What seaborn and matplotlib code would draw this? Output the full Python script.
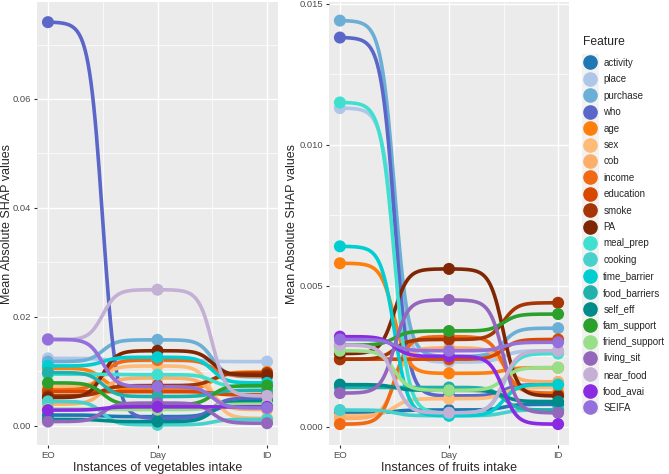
import numpy as np
import pandas as pd
import matplotlib.pyplot as plt
import seaborn as sns
from matplotlib.lines import Line2D
from matplotlib.patches import Rectangle

# Features e cores (ordem da legenda)
features = ['activity', 'place', 'purchase', 'who', 'age', 'sex', 'cob', 'income',
            'education', 'smoke', 'PA', 'meal_prep', 'cooking', 'time_barrier',
            'food_barriers', 'self_eff', 'fam_support', 'friend_support',
            'living_sit', 'near_food', 'food_avai', 'SEIFA']
cores = ['#1f77b4', '#aec7e8', '#6baed6', '#5a67c8', '#ff7f0e', '#ffbb78', '#fdae6b',
         '#f16913', '#d94801', '#a63603', '#7f2704', '#40e0d0', '#48d1cc', '#00ced1',
         '#20b2aa', '#008b8b', '#2ca02c', '#98df8a', '#9467bd', '#c5b0d5', '#8a2be2',
         '#9370db']
instancias = ['EO', 'Day', 'ID']

# Valores (EO, Day, ID)
veg_eo = [0.0020, 0.0124, 0.0118, 0.0741, 0.0106, 0.0072, 0.0040, 0.0066, 0.0063, 0.0055, 0.0052,
          0.0095, 0.0045, 0.0110, 0.0098, 0.0012, 0.0079, 0.0031, 0.0008, 0.0158, 0.0029, 0.0159]
veg_day = [0.0017, 0.0120, 0.0158, 0.0014, 0.0066, 0.0110, 0.0088, 0.0121, 0.0063, 0.0074, 0.0138,
           0.0094, 0.0002, 0.0126, 0.0054, 0.0008, 0.0039, 0.0030, 0.0042, 0.0250, 0.0035, 0.0072]
veg_id = [0.0038, 0.0118, 0.0090, 0.0051, 0.0099, 0.0014, 0.0030, 0.0092, 0.0057, 0.0097, 0.0093,
          0.0072, 0.0012, 0.0079, 0.0065, 0.0045, 0.0074, 0.0040, 0.0005, 0.0055, 0.0035, 0.0033]

fru_eo = [0.0005, 0.0113, 0.0144, 0.0138, 0.0058, 0.0004, 0.0003, 0.0001, 0.0024, 0.0024, 0.0026,
          0.0115, 0.0006, 0.0064, 0.0014, 0.0015, 0.0029, 0.0027, 0.0012, 0.0029, 0.0032, 0.0031]
fru_day = [0.0006, 0.0023, 0.0025, 0.0011, 0.0019, 0.0010, 0.0028, 0.0032, 0.0024, 0.0031, 0.0056,
           0.0005, 0.0004, 0.0004, 0.0014, 0.0013, 0.0034, 0.0013, 0.0045, 0.0005, 0.0025, 0.0027]
fru_id = [0.0008, 0.0027, 0.0035, 0.0015, 0.0021, 0.0014, 0.0016, 0.0012, 0.0031, 0.0044, 0.0011,
          0.0026, 0.0006, 0.0015, 0.0006, 0.0009, 0.0040, 0.0021, 0.0005, 0.0027, 0.0001, 0.0030]

paleta = dict(zip(features, cores))


def pontos(eo, day, idd):
    linhas = []
    for f, a, b, c in zip(features, eo, day, idd):
        for pos, v in enumerate([a, b, c]):
            linhas.append({'feature': f, 'pos': pos, 'valor': v})
    return pd.DataFrame(linhas)


def curvas(df, smooth=8, n=80):
    # curva sigmoide entre pontos consecutivos (estilo bump chart)
    t = np.linspace(-smooth, smooth, n)
    s = 1 / (1 + np.exp(-t))
    s = (s - s.min()) / (s.max() - s.min())
    partes = []
    for f in features:
        sub = df[df['feature'] == f].sort_values('pos')
        v = sub['valor'].values
        for i in range(len(v) - 1):
            partes.append(pd.DataFrame({'feature': f, 'x': i + (t + smooth) / (2 * smooth),
                                        'y': v[i] + (v[i + 1] - v[i]) * s}))
    return pd.concat(partes, ignore_index=True)


sns.set_theme(style="darkgrid", rc={'axes.facecolor': '#ebebeb', 'grid.color': 'white'})
plt.rcParams['font.family'] = ['Liberation Sans', 'DejaVu Sans']

fig = plt.figure(figsize=(6.69, 4.74), dpi=100)
W, H = 669, 474
ax1 = fig.add_axes([37 / W, 29 / H, 241 / W, 443 / H])
ax2 = fig.add_axes([329 / W, 29 / H, 240 / W, 443 / H])

config = [
    (ax1, pontos(veg_eo, veg_day, veg_id), 'Instances of vegetables intake',
     (-0.0035, 0.0778), [0, 0.02, 0.04, 0.06], ['0.00', '0.02', '0.04', '0.06'],
     [0.01, 0.03, 0.05, 0.07], -24 / 241),
    (ax2, pontos(fru_eo, fru_day, fru_id), 'Instances of fruits intake',
     (-0.00064, 0.01506), [0, 0.005, 0.010, 0.015], ['0.000', '0.005', '0.010', '0.015'],
     [0.0025, 0.0075, 0.0125], -31 / 240),
]

for ax, df, xlab, ylim, yt, ytl, ymin, ylab_x in config:
    cv = curvas(df)
    sns.lineplot(data=cv, x='x', y='y', hue='feature', hue_order=features, palette=paleta,
                 units='feature', estimator=None, sort=False, lw=2.6, legend=False, ax=ax)
    sns.scatterplot(data=df, x='pos', y='valor', hue='feature', hue_order=features,
                    palette=paleta, s=75, linewidth=0, legend=False, ax=ax, zorder=3)
    ax.set_xlim(-0.1, 2.1)
    ax.set_ylim(*ylim)
    ax.set_xticks([0, 1, 2])
    ax.set_xticklabels(instancias)
    ax.set_xticks([0.5, 1.5], minor=True)
    ax.set_yticks(yt)
    ax.set_yticklabels(ytl)
    ax.set_yticks(ymin, minor=True)
    ax.grid(which='major', color='white', lw=1.0)
    ax.grid(which='minor', color='white', lw=0.5)
    ax.tick_params(axis='both', which='major', labelsize=6.8, labelcolor='#4d4d4d',
                   length=2.5, width=0.8, color='#333333', pad=1.5, left=True, bottom=True)
    ax.tick_params(which='minor', length=0)
    ax.set_xlabel(xlab, fontsize=9, labelpad=2)
    ax.set_ylabel('Mean Absolute SHAP values', fontsize=9)
    ax.yaxis.set_label_coords(ylab_x, 0.5)
    for sp in ax.spines.values():
        sp.set_visible(False)

# Legenda manual estilo ggplot
fig.text(583 / W, 1 - 42 / H, 'Feature', fontsize=8.7, va='center', ha='left')
fig.patches.append(Rectangle((582 / W, 1 - 413 / H), 17 / W, 359 / H, transform=fig.transFigure,
                             facecolor='#f2f2f2', edgecolor='none'))
handles = [Line2D([], [], marker='o', ls='', color=c, markersize=9.5) for c in cores]
fig.legend(handles, features, loc='upper left', bbox_to_anchor=(579 / W, 1 - 54 / H),
           frameon=False, fontsize=7, labelspacing=0.66, handletextpad=0.7,
           handlelength=1.4, borderaxespad=0)

fig.savefig('out.png', dpi=100, facecolor='white')
